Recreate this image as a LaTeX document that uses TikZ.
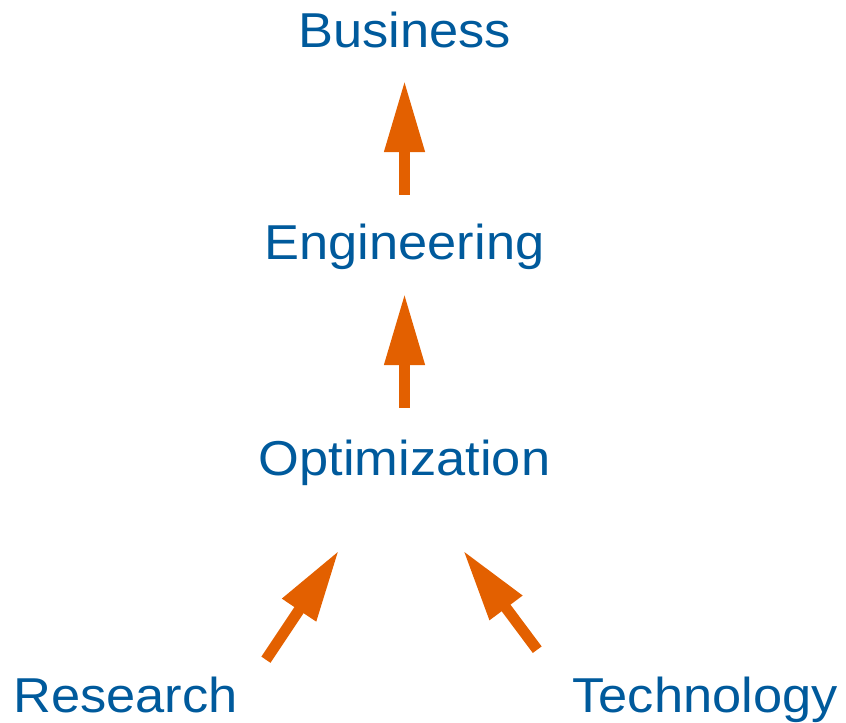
\documentclass[tikz,border=0pt]{standalone}
\usepackage{fontspec}
\usepackage{graphicx}
\setmainfont{Liberation Sans}
\usetikzlibrary{arrows.meta,calc}
\definecolor{txtblue}{HTML}{005A9C}
\definecolor{arrorange}{HTML}{E36000}
\newcommand{\wtxt}[1]{\scalebox{1.07}[1]{#1}}
\begin{document}
\begin{tikzpicture}[x=0.75pt,y=-0.75pt,
  lbl/.style={inner sep=0pt, anchor=base, text=txtblue,
    font=\fontsize{36.75}{44}\selectfont, text height=26.5pt, text depth=7.7pt},
  arr/.style={draw=arrorange, line width=8.25pt,
    -{Triangle[length=54pt,width=28.5pt,fill=arrorange]}}]
\useasboundingbox (0,0) rectangle (846,723);
\node[lbl] (bus) at (404.5,48) {\wtxt{Business}};
\node[lbl] (eng) at (404.5,260) {\wtxt{Engineering}};
\node[lbl] (opt) at (404.5,475) {\wtxt{Optimization}};
\node[lbl,anchor=base west] (res) at (13,712) {\wtxt{Research}};
\node[lbl,anchor=base east] (tec) at (838,712) {\wtxt{Technology}};
\draw[arr] ($(eng.north)+(0,-29.7)$) -- ($(bus.south)+(0,21.7)$);
\draw[arr] ($(opt.north)+(0,-31.7)$) -- ($(eng.south)+(0,22.7)$);
\draw[arr] ($(res.north east)+(28,-16.7)$) -- ($(opt.south)+(-65.5,64.7)$);
\draw[arr] ($(tec.north west)+(-35,-26.7)$) -- ($(opt.south)+(58.5,64.7)$);
\end{tikzpicture}
\end{document}
